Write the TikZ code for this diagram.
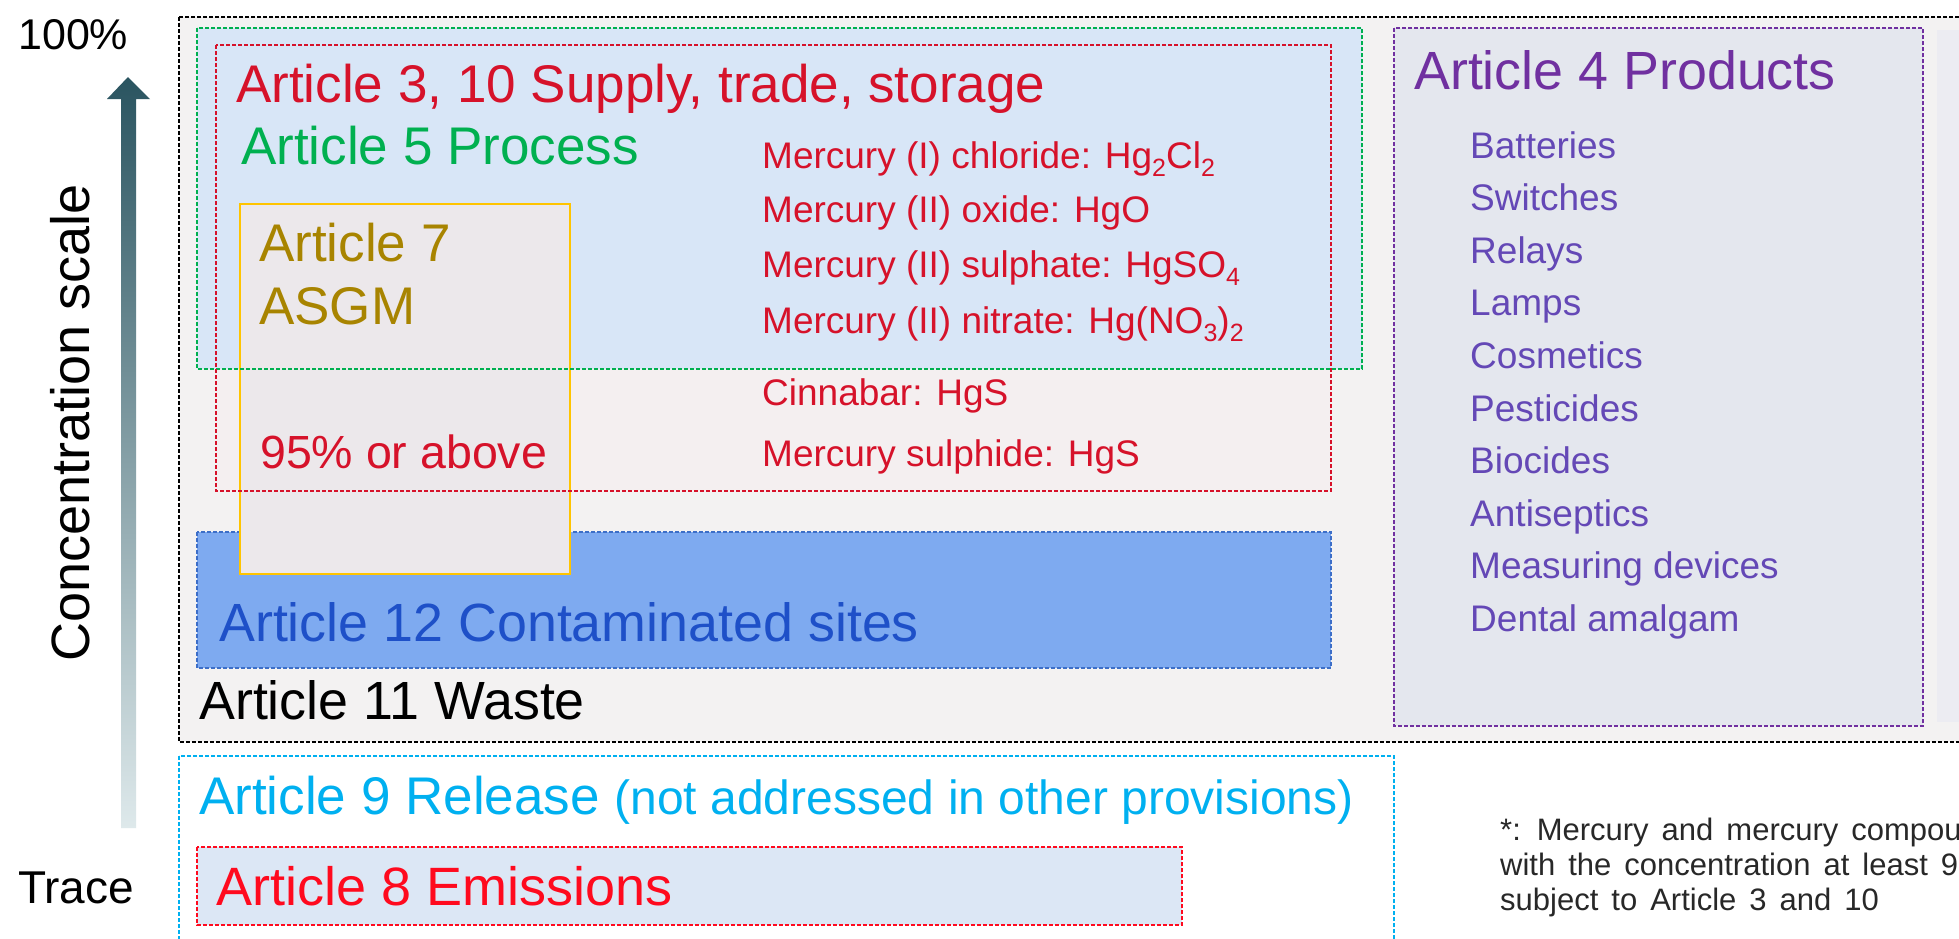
\documentclass[tikz,border=0pt]{standalone}
\usepackage{fontspec}
\setmainfont{Liberation Sans}
\newcommand\chsub[1]{\raisebox{-0.22em}{\fontsize{25}{25}\selectfont #1}}
\newcommand\footfont{\fontsize{31}{35}\selectfont\spaceskip 0.42em plus 0.05em\relax}
\definecolor{outerfill}{RGB}{243,242,242}
\definecolor{artfivefill}{RGB}{216,230,247}
\definecolor{redlow}{RGB}{244,239,240}
\definecolor{artfourfill}{RGB}{228,231,238}
\definecolor{farfill}{RGB}{236,236,242}
\definecolor{artsevenfill}{RGB}{236,232,235}
\definecolor{goldline}{RGB}{255,196,0}
\definecolor{olive}{RGB}{168,132,0}
\definecolor{blfill}{RGB}{126,170,240}
\definecolor{blline}{RGB}{60,110,200}
\definecolor{bltext}{RGB}{30,80,200}
\definecolor{eightfill}{RGB}{220,231,245}
\definecolor{grn}{RGB}{0,176,80}
\definecolor{redA}{RGB}{214,18,42}
\definecolor{redB}{RGB}{255,10,30}
\definecolor{purA}{RGB}{112,48,160}
\definecolor{purB}{RGB}{100,72,182}
\definecolor{cyn}{RGB}{0,176,240}
\definecolor{arrtop}{RGB}{42,84,96}
\definecolor{arrmid}{RGB}{110,156,162}
\definecolor{arrbot}{RGB}{222,233,235}
\definecolor{foot}{RGB}{40,40,40}
\begin{document}
\begin{tikzpicture}[x=1pt,y=-1pt,
  hdr/.style={anchor=base west, inner sep=0pt, font=\fontsize{53}{60}\selectfont},
  lst/.style={anchor=base west, inner sep=0pt, font=\fontsize{37}{44}\selectfont},
  side/.style={anchor=base west, inner sep=0pt, font=\fontsize{43}{50}\selectfont},
  ftn/.style={anchor=base west, inner sep=0pt, font=\footfont, text=foot},
  dbox/.style={dash pattern=on 4pt off 2pt, line width=2pt}]
\useasboundingbox (0,0) rectangle (1959,938);
\fill[white] (0,0) rectangle (1959,938);

% fills
\fill[outerfill] (179,17) rectangle (1980,742);
\fill[artfivefill] (197,28) rectangle (1362,369);
\fill[redlow] (216,369) rectangle (1331,491);
\fill[artfourfill] (1394,28) rectangle (1923,726);
\fill[farfill] (1937,30) rectangle (1980,722);
\fill[blfill] (197,532) rectangle (1331,668);
\draw[dbox, blline] (197,532) rectangle (1331,668);
\filldraw[fill=artsevenfill, draw=goldline, line width=2pt] (240,204) rectangle (570,574);
\fill[white] (179,756) rectangle (1394,960);
\fill[eightfill] (197,847) rectangle (1182,925);

% borders
\draw[dbox, black] (179,17) rectangle (1985,742);
\draw[dbox, grn] (197,28) rectangle (1362,369);
\draw[dbox, redA] (216,45) rectangle (1331,491);
\draw[dbox, purA] (1394,28) rectangle (1923,726);
\draw[dbox, cyn] (179,756) rectangle (1394,960);
\draw[dbox, redB] (197,847) rectangle (1182,925);

% concentration arrow
\shade[top color=arrtop, middle color=arrmid, bottom color=arrbot]
  (128,77) -- (150,99) -- (136,99) -- (136,828) -- (121,828) -- (121,99) -- (107,99) -- cycle;
\node[side] (top) at (18,49) {100\%};
\node[anchor=base west, inner sep=0pt, font=\fontsize{46}{52}\selectfont] (trace) at (18,903) {Trace};
\node[anchor=base west, inner sep=0pt, rotate=90, font=\fontsize{54}{60}\selectfont] (scale) at (89,662) {Concentration scale};

% headers
\node[hdr, text=redA] (a3) at (236,102) {Article 3, 10 Supply, trade, storage};
\node[hdr, text=grn] (a5) at (241,164) {Article 5 Process};
\node[hdr, text=olive] (a7) at (259,261) {Article 7};
\node[hdr, text=olive] (asgm) at (259,324) {ASGM};
\node[anchor=base west, inner sep=0pt, font=\fontsize{46.5}{56}\selectfont, text=redA] (pct) at (260,468) {95\% or above};
\node[hdr, text=bltext, font=\fontsize{53.8}{60}\selectfont] (a12) at (219,641) {Article 12 Contaminated sites};
\node[hdr, text=black, font=\fontsize{53.8}{60}\selectfont] (a11) at (199,719) {Article 11 Waste};
\node[hdr, text=purA, font=\fontsize{53.8}{60}\selectfont] (a4) at (1414,89) {Article 4 Products};
\node[hdr, text=cyn] (a9) at (199,814) {Article 9 Release \fontsize{48}{54}\selectfont(not addressed in other provisions)};
\node[hdr, text=redB, font=\fontsize{54}{60}\selectfont] (a8) at (216,905) {Article 8 Emissions};

% compounds
\node[lst, text=redA] (c1) at (762,168) {Mercury (I) chloride: Hg\chsub{2}Cl\chsub{2}};
\node[lst, text=redA] (c2) at (762,222) {Mercury (II) oxide: HgO};
\node[lst, text=redA] (c3) at (762,277) {Mercury (II) sulphate: HgSO\chsub{4}};
\node[lst, text=redA] (c4) at (762,333) {Mercury (II) nitrate: Hg(NO\chsub{3})\chsub{2}};
\node[lst, text=redA] (c5) at (762,405) {Cinnabar: HgS};
\node[lst, text=redA] (c6) at (762,466) {Mercury sulphide: HgS};

% products
\foreach \t [count=\i from 0] in {Batteries,Switches,Relays,Lamps,Cosmetics,Pesticides,Biocides,Antiseptics,Measuring devices,Dental amalgam}
  \node[lst, text=purB] (p\i) at (1470,{158+52.6*\i}) {\t};

% footnote
\node[ftn] (f1) at (1500,840) {*: Mercury and mercury compounds};
\node[ftn] (f2) at (1500,875) {with the concentration at least 95\%};
\node[ftn] (f3) at (1500,910) {subject to Article 3 and 10};
\end{tikzpicture}
\end{document}
